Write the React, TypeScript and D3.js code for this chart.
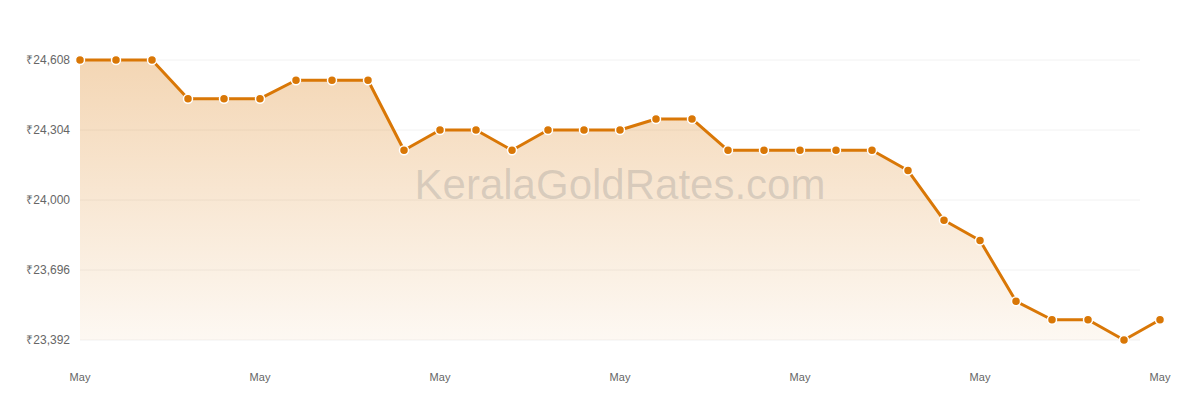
import * as d3 from "d3"

// Daily 22K gold rate (8 gram), May
const days = [
  "05-01", "05-02", "05-03", "05-04", "05-05", "05-06", "05-07", "05-08",
  "05-09", "05-10", "05-11", "05-12", "05-13", "05-14", "05-15", "05-16",
  "05-17", "05-18", "05-19", "05-20", "05-21", "05-22", "05-23", "05-24",
  "05-25", "05-26", "05-27", "05-28", "05-29", "05-30", "05-31",
]

const rates = [
  24608, 24608, 24608, 24440, 24440, 24440, 24520, 24520,
  24520, 24216, 24304, 24304, 24216, 24304, 24304, 24304,
  24352, 24352, 24216, 24216, 24216, 24216, 24216, 24128,
  23912, 23824, 23560, 23480, 23480, 23392, 23480,
]

const tickDays = ["05-01", "05-06", "05-11", "05-16", "05-21", "05-26", "05-31"]

const W = 1200
const H = 400
const margin = { top: 60, right: 40, bottom: 60, left: 80 }
const plotRight = 1140
const ORANGE = "#d97706"
const FONT = "'Liberation Sans', Arial, Helvetica, sans-serif"

export default function App() {
  const x = d3.scalePoint<string>()
    .domain(days)
    .range([margin.left, W - margin.right])

  const yMin = d3.min(rates) as number
  const yMax = d3.max(rates) as number
  const y = d3.scaleLinear()
    .domain([yMin, yMax])
    .range([H - margin.bottom, margin.top])

  const yTicks = d3.range(5).map((i) => yMin + ((yMax - yMin) / 4) * i)

  const line = d3.line<number>()
    .x((_, i) => x(days[i]) as number)
    .y((d) => y(d))

  const area = d3.area<number>()
    .x((_, i) => x(days[i]) as number)
    .y0(y(yMin))
    .y1((d) => y(d))

  const fmt = (v: number) => "₹" + d3.format(",")(Math.round(v))
  const monthFmt = (s: string) => d3.timeFormat("%b")(new Date(`2024-${s}T00:00:00`))

  return (
    <svg
      width={W}
      height={H}
      style={{ position: "absolute", left: 0, top: 0, background: "#fff" }}
      fontFamily={FONT}
    >
      <defs>
        <linearGradient id="fill" x1="0" y1={y(yMax)} x2="0" y2={y(yMin)} gradientUnits="userSpaceOnUse">
          <stop offset="0%" stopColor={ORANGE} stopOpacity={0.3} />
          <stop offset="100%" stopColor={ORANGE} stopOpacity={0.05} />
        </linearGradient>
        <clipPath id="plot">
          <rect x={margin.left} y={0} width={plotRight - margin.left} height={H - margin.bottom} />
        </clipPath>
      </defs>

      {/* grid */}
      {yTicks.map((t) => (
        <line
          key={t}
          x1={margin.left}
          x2={plotRight}
          y1={y(t)}
          y2={y(t)}
          stroke="#f2f2f2"
          strokeWidth={1}
        />
      ))}

      {/* area */}
      <path d={area(rates) || ""} fill="url(#fill)" clipPath="url(#plot)" />

      {/* watermark */}
      <text
        x={620}
        y={199}
        textAnchor="middle"
        fontSize={42}
        fill="#888"
        fillOpacity={0.28}
      >
        KeralaGoldRates.com
      </text>

      {/* line */}
      <path d={line(rates) || ""} fill="none" stroke={ORANGE} strokeWidth={3} strokeLinejoin="round" />

      {/* points */}
      {rates.map((r, i) => (
        <circle
          key={days[i]}
          cx={x(days[i])}
          cy={y(r)}
          r={4.5}
          fill={ORANGE}
          stroke="#fff"
          strokeWidth={1.5}
        />
      ))}

      {/* y labels */}
      {yTicks.map((t) => (
        <text
          key={t}
          x={70}
          y={y(t)}
          dy="0.35em"
          textAnchor="end"
          fontSize={12}
          fill="#666"
        >
          {fmt(t)}
        </text>
      ))}

      {/* x labels */}
      {tickDays.map((d) => (
        <text
          key={d}
          x={x(d)}
          y={381}
          textAnchor="middle"
          fontSize={11}
          fill="#666"
        >
          {monthFmt(d)}
        </text>
      ))}
    </svg>
  )
}
